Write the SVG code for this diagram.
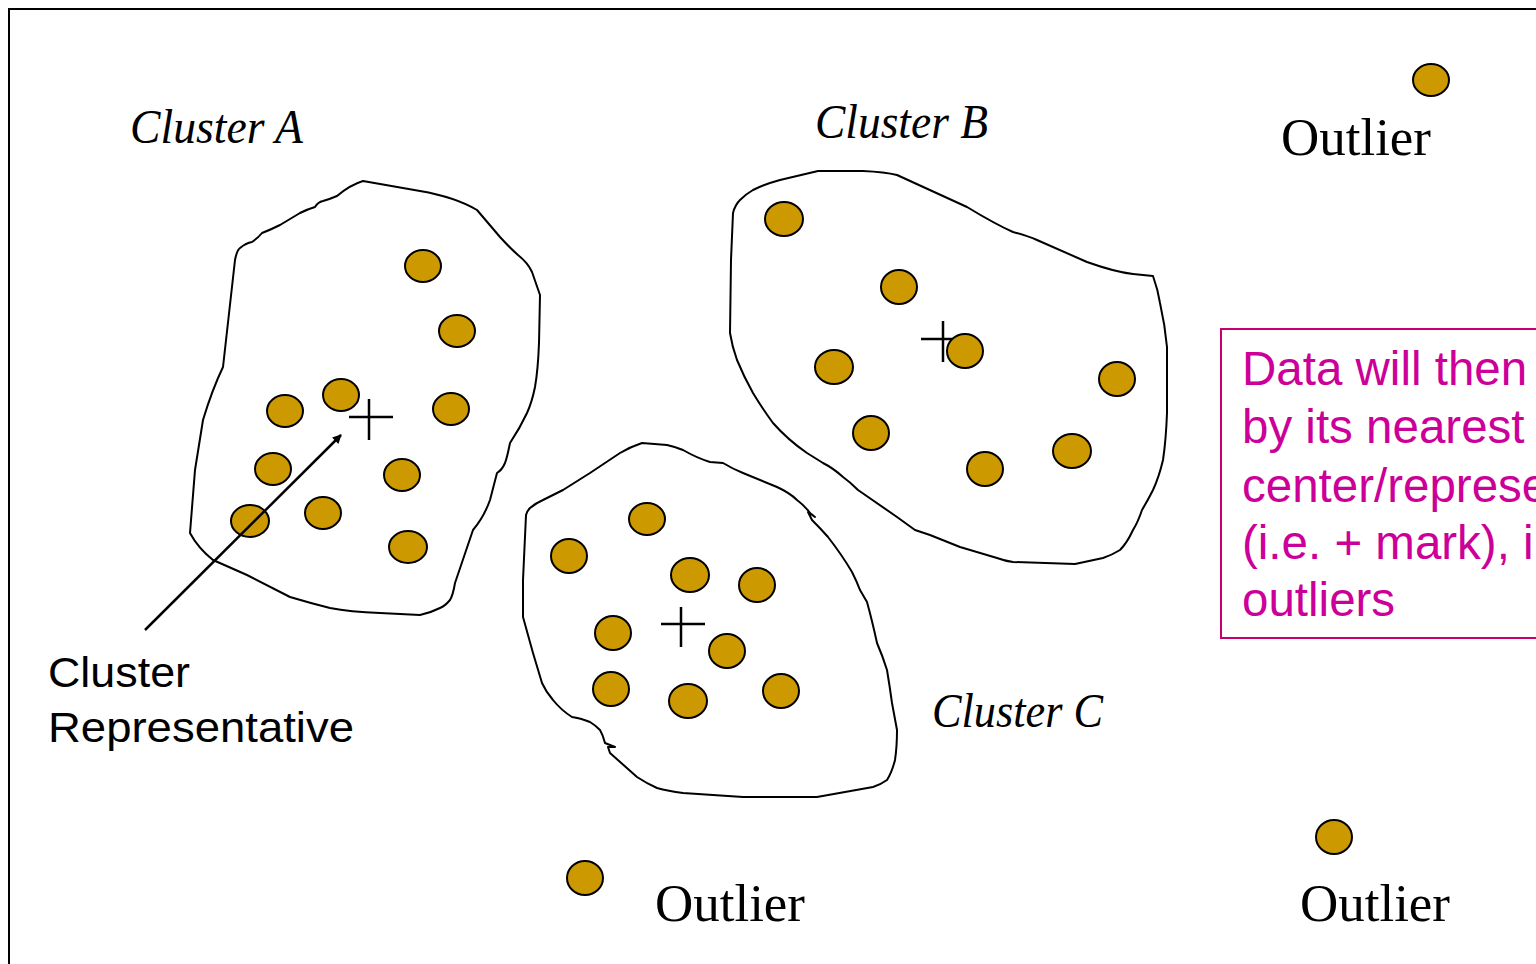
<svg xmlns="http://www.w3.org/2000/svg" width="1536" height="964" viewBox="0 0 1536 964">
<defs>
<style>
.blob{fill:none;stroke:#000;stroke-width:2;stroke-linejoin:round}
.dot{fill:#CC9900;stroke:#000;stroke-width:2}
.plus{stroke:#000;stroke-width:2.5;fill:none}
.script{font-family:"Liberation Serif",serif;font-style:italic;font-size:48px;fill:#000}
.outl{font-family:"Liberation Serif",serif;font-size:52px;fill:#000}
.sans{font-family:"Liberation Sans",sans-serif;font-size:42px;fill:#000}
.mag{font-family:"Liberation Sans",sans-serif;font-size:47.5px;fill:#CC0099}
</style>
<marker id="ah" viewBox="0 0 10 10" refX="9" refY="5" markerWidth="10" markerHeight="9" markerUnits="userSpaceOnUse" orient="auto"><path d="M0,0 L10,5 L0,10 z" fill="#000"/></marker>
</defs>
<rect width="1536" height="964" fill="#fff"/>
<path d="M9,964 L9,9 L1536,9" fill="none" stroke="#000" stroke-width="2"/>

<g id="clusterA">
<path class="blob" d="M363,181 L420,191 Q455,197 477,210 L500,237 Q510,248 518,255 Q528,263 532,272 L540,295 L539,343 Q538,370 535,387 Q532,402 527,413 Q520,428 510,443 Q507,458 505,463 Q502,470 497,473 L490,500 Q484,517 473,530 L455,583 Q453,595 450,600 Q445,606 440,608 Q430,613 420,615 L380,613 Q350,612 330,608 Q310,603 290,597 L247,575 L213,560 Q198,548 190,533 L195,470 L203,420 Q212,390 223,367 L235,260 Q237,250 240,248 Q246,243 252,242 Q258,238 262,233 Q270,230 280,225 L300,213 Q308,209 315,207 Q318,202 323,201 Q330,199 337,196 Q350,185 363,181 Z"/>
<ellipse class="dot" cx="423" cy="266" rx="18" ry="16"/>
<ellipse class="dot" cx="457" cy="331" rx="18" ry="16"/>
<ellipse class="dot" cx="285" cy="411" rx="18" ry="16"/>
<ellipse class="dot" cx="341" cy="395" rx="18" ry="16"/>
<ellipse class="dot" cx="451" cy="409" rx="18" ry="16"/>
<ellipse class="dot" cx="273" cy="469" rx="18" ry="16"/>
<ellipse class="dot" cx="402" cy="475" rx="18" ry="16"/>
<ellipse class="dot" cx="250" cy="521" rx="19" ry="16"/>
<ellipse class="dot" cx="323" cy="513" rx="18" ry="16"/>
<ellipse class="dot" cx="408" cy="547" rx="19" ry="16"/>
<path class="plus" d="M349,417 L393,417 M369,399 L369,440"/>
<text class="script" x="130" y="143" textLength="173" lengthAdjust="spacingAndGlyphs">Cluster A</text>
</g>

<g id="clusterB">
<path class="blob" d="M818,171 L863,171 Q885,172 897,175 L967,207 Q995,224 1013,232 Q1028,236 1037,240 L1087,262 Q1115,272 1133,274 L1153,276 Q1158,290 1160,303 Q1165,325 1167,347 L1167,413 Q1166,440 1163,460 Q1159,477 1153,490 Q1148,500 1142,510 Q1138,522 1133,530 Q1127,543 1120,550 Q1112,555 1103,558 L1075,564 L1013,562 Q1005,561 997,558 L960,547 L930,535 L915,530 L897,517 L858,490 Q850,482 843,477 Q833,468 823,463 L807,453 Q788,440 773,423 Q762,408 753,393 Q744,377 737,360 Q732,346 730,333 L731,260 L733,213 Q735,205 740,200 Q746,194 753,190 Q765,184 780,180 Z"/>
<ellipse class="dot" cx="784" cy="219" rx="19" ry="17"/>
<ellipse class="dot" cx="899" cy="287" rx="18" ry="17"/>
<ellipse class="dot" cx="834" cy="367" rx="19" ry="17"/>
<ellipse class="dot" cx="1117" cy="379" rx="18" ry="17"/>
<ellipse class="dot" cx="871" cy="433" rx="18" ry="17"/>
<ellipse class="dot" cx="985" cy="469" rx="18" ry="17"/>
<ellipse class="dot" cx="1072" cy="451" rx="19" ry="17"/>
<path class="plus" d="M921,339 L953,339 M943,321 L943,362"/>
<ellipse class="dot" cx="965" cy="351" rx="18" ry="17"/>
<text class="script" x="815" y="138" textLength="173" lengthAdjust="spacingAndGlyphs">Cluster B</text>
</g>

<g id="clusterC">
<path class="blob" d="M642,443 L667,445 Q676,447 683,450 Q697,458 710,462 L723,463 Q733,469 743,473 L777,487 Q790,493 797,500 Q805,506 810,513 L815,517 L808,512 L812,520 Q820,528 828,537 Q842,555 852,572 Q857,582 860,590 L867,602 Q872,620 877,643 Q883,657 887,670 Q890,688 892,703 L897,730 Q897,747 895,760 Q892,772 887,780 Q880,785 873,787 L817,797 L743,797 L683,793 Q668,791 657,788 Q646,783 637,777 L610,753 L608,747 L615,747 L605,743 Q603,735 600,730 Q595,725 590,722 Q580,718 572,717 Q561,710 553,700 Q546,692 542,683 L533,653 L523,617 L523,580 L526,515 Q527,511 530,508 Q536,503 543,500 L563,490 L590,473 L620,453 Q630,447 642,443 Z"/>
<ellipse class="dot" cx="647" cy="519" rx="18" ry="16"/>
<ellipse class="dot" cx="569" cy="556" rx="18" ry="17"/>
<ellipse class="dot" cx="690" cy="575" rx="19" ry="17"/>
<ellipse class="dot" cx="757" cy="585" rx="18" ry="17"/>
<ellipse class="dot" cx="613" cy="633" rx="18" ry="17"/>
<ellipse class="dot" cx="727" cy="651" rx="18" ry="17"/>
<ellipse class="dot" cx="611" cy="689" rx="18" ry="17"/>
<ellipse class="dot" cx="688" cy="701" rx="19" ry="17"/>
<ellipse class="dot" cx="781" cy="691" rx="18" ry="17"/>
<path class="plus" d="M661,624 L705,624 M681,607 L681,647"/>
<text class="script" x="932" y="727" textLength="171" lengthAdjust="spacingAndGlyphs">Cluster C</text>
</g>

<g id="outlier1">
<ellipse class="dot" cx="1431" cy="80" rx="18" ry="16"/>
<text class="outl" x="1281" y="155" textLength="150" lengthAdjust="spacingAndGlyphs">Outlier</text>
</g>
<g id="outlier2">
<ellipse class="dot" cx="585" cy="878" rx="18" ry="17"/>
<text class="outl" x="655" y="921" textLength="150" lengthAdjust="spacingAndGlyphs">Outlier</text>
</g>
<g id="outlier3">
<ellipse class="dot" cx="1334" cy="837" rx="18" ry="17"/>
<text class="outl" x="1300" y="921" textLength="150" lengthAdjust="spacingAndGlyphs">Outlier</text>
</g>

<g id="label-rep">
<text class="sans" x="48" y="687" textLength="142" lengthAdjust="spacingAndGlyphs">Cluster</text>
<text class="sans" x="48" y="742" textLength="306" lengthAdjust="spacingAndGlyphs">Representative</text>
</g>

<g id="note">
<rect x="1221" y="329" width="330" height="309" fill="none" stroke="#C8006E" stroke-width="2"/>
<text class="mag" x="1242" y="385">Data will then</text>
<text class="mag" x="1242" y="443">by its nearest</text>
<text class="mag" x="1242" y="502">center/represe</text>
<text class="mag" x="1242" y="559">(i.e. + mark), i</text>
<text class="mag" x="1242" y="616">outliers</text>
</g>

<g id="connectors">
<line x1="145" y1="630" x2="341" y2="435" stroke="#000" stroke-width="2.5" marker-end="url(#ah)"/>
</g>
</svg>
